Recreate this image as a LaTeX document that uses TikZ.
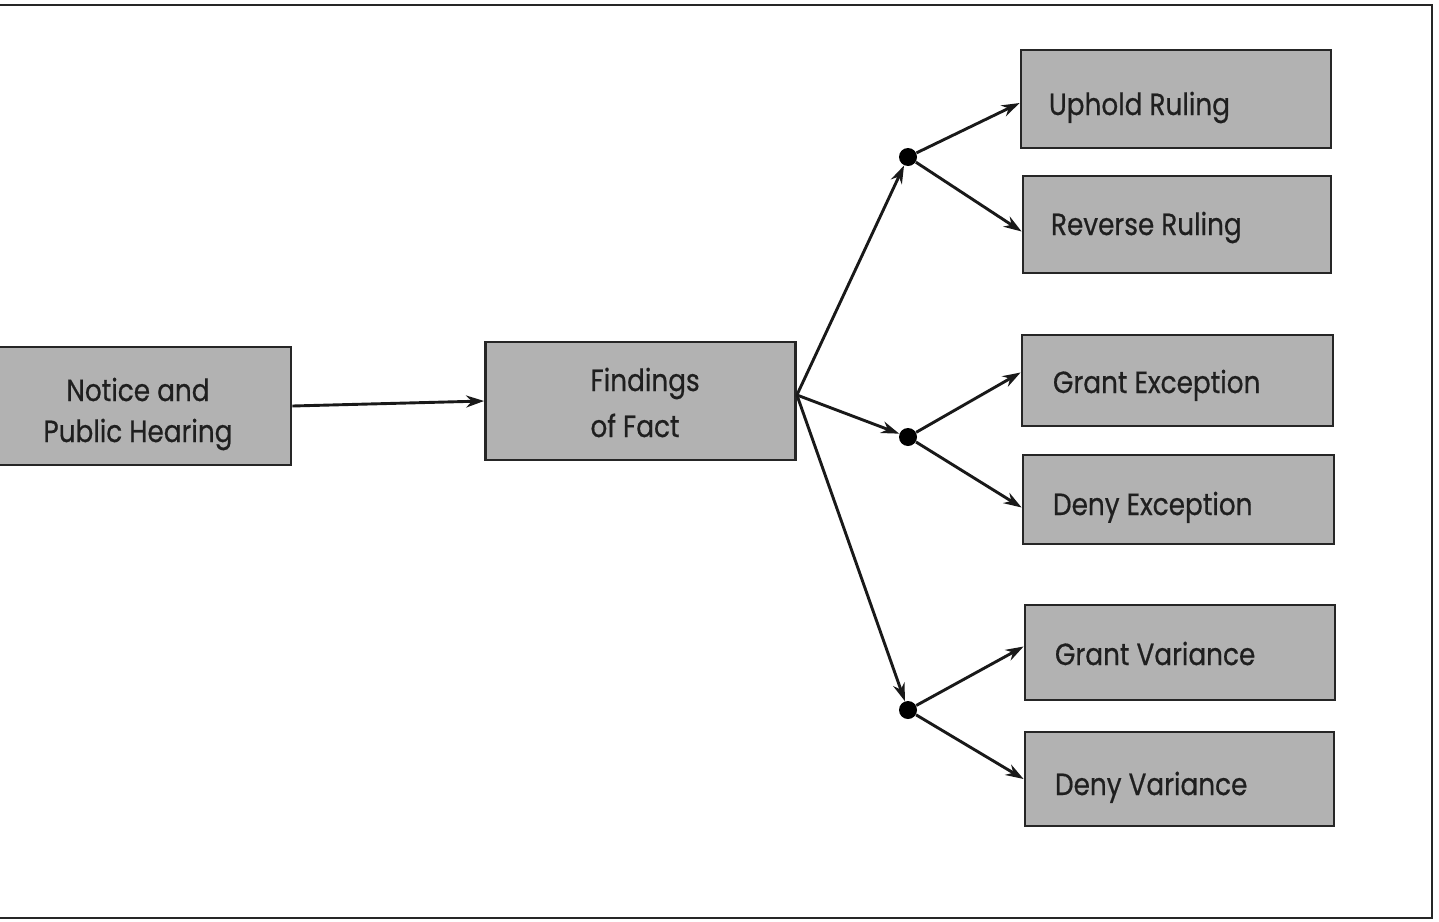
\documentclass[tikz,border=0pt]{standalone}
\usepackage{fontspec}
\setmainfont{Poppins}[FakeStretch=0.86, FakeBold=0.6]
\usetikzlibrary{arrows.meta}
\definecolor{boxgray}{gray}{0.70}
\newcommand\rtext[4]{\makebox[#1][l]{\hspace{#2}\raisebox{-#3}[0pt][0pt]{#4}}}
\newcommand\ctext[5]{\makebox[#1][#2]{\raisebox{-#3}[0pt][0pt]{\fontsize{15.3}{#4}\selectfont\begin{tabular}[b]{@{}#2@{}}#5\end{tabular}}}}
\tikzset{
  box/.style={draw=black!85, fill=boxgray, line width=1.4pt, inner sep=0pt,
    font=\fontsize{15.3}{20}\selectfont, text=black!88},
  dot/.style={circle, fill=black, draw=none, minimum size=9pt, inner sep=0pt},
  conn/.style={line width=1.45pt, draw=black!90, -{Stealth[length=9pt, width=6pt]}},
  frame/.style={line width=1.4pt, draw=black!85}
}
\begin{document}
\begin{tikzpicture}[x=0.5pt, y=-0.5pt]
\useasboundingbox (0,0) rectangle (1439,921);
\clip (0,0) rectangle (1439,921);
\draw[frame] (0,5) -- (1432,5) -- (1432,918) -- (0,918);
% left nodes
\node[box, minimum height=59pt] (nh) at (138,406)
  {\ctext{153pt}{c}{18pt}{20.5}{Notice and\\Public Hearing}};
\node[box, minimum height=59pt] (ff) at (640.5,401)
  {\hspace{52.5pt}\ctext{102.5pt}{l}{18pt}{23}{Findings\\of Fact}};
% dots
\node[dot] (d1) at (908,157) {};
\node[dot] (d2) at (908,437) {};
\node[dot] (d3) at (908,710) {};
% right boxes
\node[box, minimum height=49pt] (ur) at (1176,99) {\rtext{155pt}{14pt}{8pt}{Uphold Ruling}};
\node[box, minimum height=48.5pt] (rr) at (1177,224.5) {\rtext{154pt}{14pt}{5.25pt}{Reverse Ruling}};
\node[box, minimum height=45.5pt] (ge) at (1177.5,380.5) {\rtext{155.5pt}{15.5pt}{6.25pt}{Grant Exception}};
\node[box, minimum height=44.5pt] (de) at (1178.5,499.5) {\rtext{155.5pt}{15pt}{7.75pt}{Deny Exception}};
\node[box, minimum height=47.5pt] (gv) at (1180,652.5) {\rtext{155pt}{15pt}{6.25pt}{Grant Variance}};
\node[box, minimum height=47pt] (dv) at (1179.5,779) {\rtext{154.5pt}{15pt}{8pt}{Deny Variance}};
% connectors
\draw[conn] (nh.east) -- (ff.west);
\draw[conn] ([yshift=3pt]ff.east) -- (d1);
\draw[conn] ([yshift=3pt]ff.east) -- (d2);
\draw[conn] ([yshift=3pt]ff.east) -- (d3);
\draw[conn] (d1) -- ([yshift=-2pt]ur.west);
\draw[conn] (d1) -- ([yshift=-3.5pt]rr.west);
\draw[conn] (d2) -- ([yshift=4pt]ge.west);
\draw[conn] (d2) -- ([yshift=-4pt]de.west);
\draw[conn] (d3) -- ([yshift=3pt]gv.west);
\draw[conn] (d3) -- (dv.west);
\end{tikzpicture}
\end{document}
